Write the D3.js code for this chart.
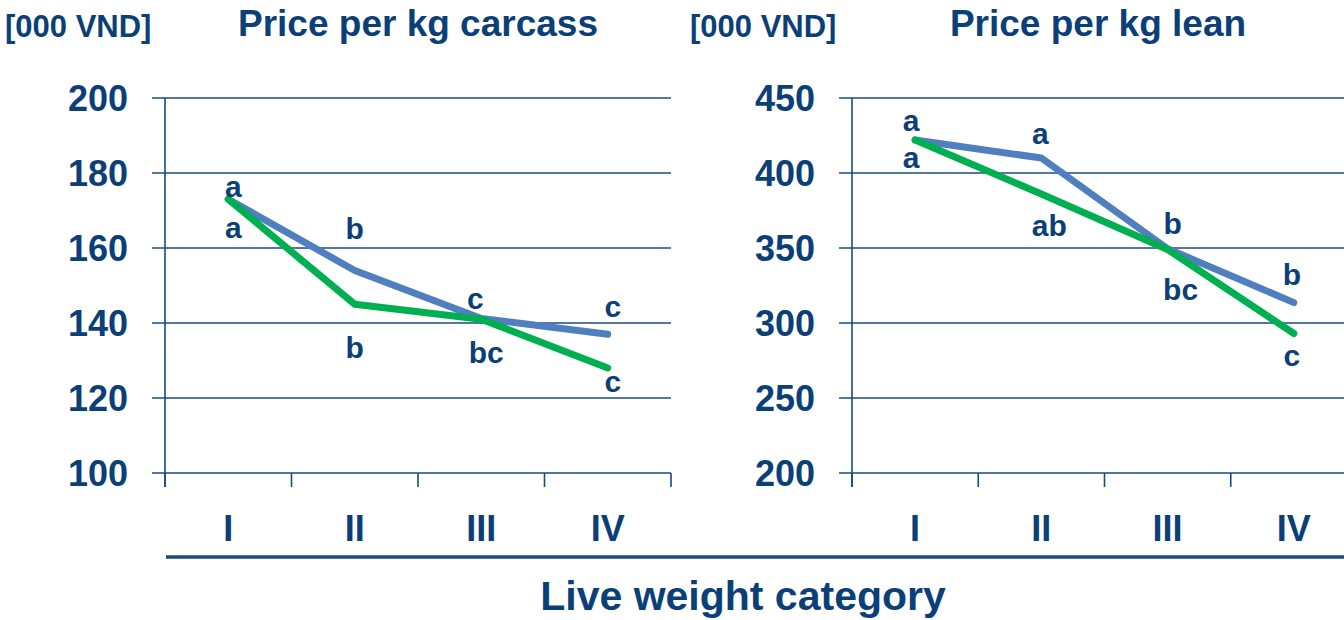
<!DOCTYPE html>
<html>
<head>
<meta charset="utf-8">
<script src="https://cdn.jsdelivr.net/npm/d3@7"></script>
<style>
  body { margin: 0; background: #fff; }
  text { font-family: "Liberation Sans", Arial, sans-serif; font-weight: bold; fill: #0b3f78; }
</style>
</head>
<body>
<svg></svg>
<script>
var categories = ["I", "II", "III", "IV"];

// price per kg carcass [000 VND]
var carcassBlue = [173, 154, 141.2, 137];
var carcassGreen = [173, 145, 141, 128];
var carcassBlueLetters = ["a", "b", "c", "c"];
var carcassGreenLetters = ["a", "b", "bc", "c"];
var carcassTicks = [100, 120, 140, 160, 180, 200];

// price per kg lean [000 VND]
var leanBlue = [422, 410, 349.5, 313.6];
var leanGreen = [422, 386, 349, 293];
var leanBlueLetters = ["a", "a", "b", "b"];
var leanGreenLetters = ["a", "ab", "bc", "c"];
var leanTicks = [200, 250, 300, 350, 400, 450];

const svgWidth = 1344, svgHeight = 620;
var navy = "#1b4a7c";

var svg = d3.select("svg")
    .attr("width", svgWidth)
    .attr("height", svgHeight);

// label offsets (layout only) [dx, dy] for blue / green letters
var carcassBlueOff = [[5, -13], [0, -42], [-6, -20], [5, -28]];
var carcassGreenOff = [[5, 28], [0, 43], [5, 33], [5, 13]];
var leanBlueOff = [[-4, -20], [-1, -25], [5, -26], [-2, -28]];
var leanGreenOff = [[-4, 17], [8, 31], [13, 40], [-2, 22]];

function drawPanel(opt) {
    var x = d3.scaleBand().domain(categories).range([opt.x0, opt.x1]).padding(0);
    var y = d3.scaleLinear().domain(d3.extent(opt.ticks)).range([473, 98]);
    var cx = d => x(d) + x.bandwidth() / 2;
    var g = svg.append("g");

    // gridlines
    g.selectAll(".grid")
        .data(opt.ticks)
        .enter()
        .append("line")
        .attr("x1", opt.x0 - 13)
        .attr("x2", opt.x1)
        .attr("y1", d => y(d))
        .attr("y2", d => y(d))
        .attr("stroke", navy)
        .attr("stroke-width", 1.6);

    // y axis line
    g.append("line")
        .attr("x1", opt.x0).attr("x2", opt.x0)
        .attr("y1", y(opt.ticks[opt.ticks.length - 1]))
        .attr("y2", y(opt.ticks[0]) + 14)
        .attr("stroke", navy)
        .attr("stroke-width", 1.6);

    // x tick marks on band edges
    var edges = categories.map(d => x(d)).concat([opt.x1]);
    g.selectAll(".xtick")
        .data(edges)
        .enter()
        .append("line")
        .attr("x1", d => d).attr("x2", d => d)
        .attr("y1", y(opt.ticks[0]))
        .attr("y2", y(opt.ticks[0]) + 14)
        .attr("stroke", navy)
        .attr("stroke-width", 1.6);

    // y tick labels
    g.selectAll(".ylab")
        .data(opt.ticks)
        .enter()
        .append("text")
        .attr("x", opt.x0 - 37)
        .attr("y", d => y(d))
        .attr("dy", "0.36em")
        .attr("text-anchor", "end")
        .attr("font-size", 36)
        .text(d => d);

    // category labels
    g.selectAll(".xlab")
        .data(categories)
        .enter()
        .append("text")
        .attr("x", d => cx(d))
        .attr("y", 528)
        .attr("dy", "0.36em")
        .attr("text-anchor", "middle")
        .attr("font-size", 36)
        .text(d => d);

    // units + title
    g.append("text")
        .attr("x", opt.unitX)
        .attr("y", 26)
        .attr("dy", "0.36em")
        .attr("font-size", 31)
        .text("[000 VND]");
    g.append("text")
        .attr("x", opt.titleX)
        .attr("y", 23)
        .attr("dy", "0.36em")
        .attr("text-anchor", "middle")
        .attr("font-size", 37)
        .text(opt.title);

    var line = d3.line()
        .x((d, i) => cx(categories[i]))
        .y(d => y(d));

    g.append("path")
        .datum(opt.blue)
        .attr("d", line)
        .attr("fill", "none")
        .attr("stroke", "#4f7fbf")
        .attr("stroke-width", 7)
        .attr("stroke-linejoin", "round")
        .attr("stroke-linecap", "round");

    g.append("path")
        .datum(opt.green)
        .attr("d", line)
        .attr("fill", "none")
        .attr("stroke", "#00b050")
        .attr("stroke-width", 7)
        .attr("stroke-linejoin", "round")
        .attr("stroke-linecap", "round");

    function letters(vals, lets, off) {
        g.selectAll(null)
            .data(vals)
            .enter()
            .append("text")
            .attr("x", (d, i) => cx(categories[i]) + off[i][0])
            .attr("y", (d, i) => y(d) + off[i][1])
            .attr("dy", "0.36em")
            .attr("text-anchor", "middle")
            .attr("font-size", 30)
            .text((d, i) => lets[i]);
    }
    letters(opt.blue, opt.blueLetters, opt.blueOff);
    letters(opt.green, opt.greenLetters, opt.greenOff);
}

drawPanel({
    x0: 165, x1: 671, ticks: carcassTicks,
    blue: carcassBlue, green: carcassGreen,
    blueLetters: carcassBlueLetters, greenLetters: carcassGreenLetters,
    blueOff: carcassBlueOff, greenOff: carcassGreenOff,
    title: "Price per kg carcass", titleX: 418, unitX: 5
});

drawPanel({
    x0: 852, x1: 1357, ticks: leanTicks,
    blue: leanBlue, green: leanGreen,
    blueLetters: leanBlueLetters, greenLetters: leanGreenLetters,
    blueOff: leanBlueOff, greenOff: leanGreenOff,
    title: "Price per kg lean", titleX: 1098, unitX: 690
});

// separator and shared x title
svg.append("line")
    .attr("x1", 166).attr("x2", svgWidth)
    .attr("y1", 557).attr("y2", 557)
    .attr("stroke", navy)
    .attr("stroke-width", 3.5);

svg.append("text")
    .attr("x", 743)
    .attr("y", 595)
    .attr("dy", "0.36em")
    .attr("text-anchor", "middle")
    .attr("font-size", 41)
    .text("Live weight category");
</script>
</body>
</html>
